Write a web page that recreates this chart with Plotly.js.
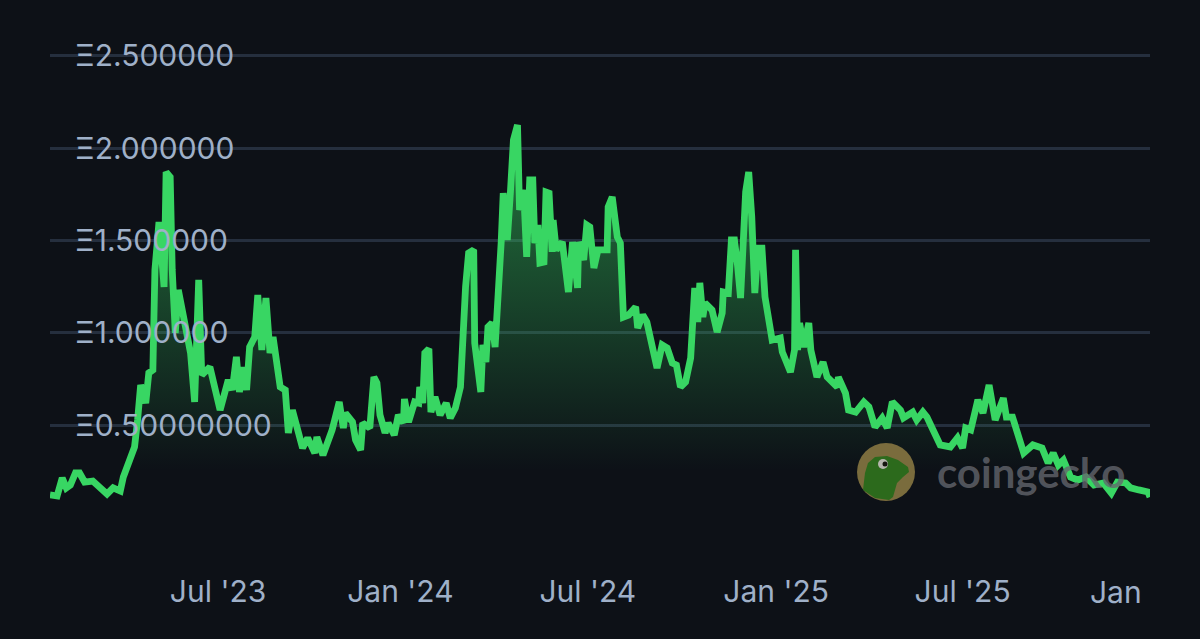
<!DOCTYPE html>
<html><head><meta charset="utf-8">
<script src="https://cdn.plot.ly/plotly-3.0.1.min.js"></script>
<style>html,body{margin:0;padding:0;background:#0d1117}#c{width:1200px;height:639px}</style></head>
<body><div id="c"></div>
<script>
const startDate = Date.UTC(2023,0,17);
const dayOffsets = [0,7,12,16,20,25,29,34,42,49,56,62,69,72,77,83,86,89,94,97,101,103,107,112,114,118,120,123,126,131,138,142,146,149,157,167,175,179,183,186,189,193,196,201,204,208,212,216,219,226,231,234,238,248,253,260,262,268,277,284,288,290,297,300,305,307,314,318,321,324,329,332,338,342,347,348,352,358,362,363,366,368,372,374,378,383,389,393,398,403,405,408,411,416,417,420,423,425,428,430,434,437,440,443,445,449,452,455,459,461,465,468,471,474,476,479,481,485,487,490,493,494,497,503,509,513,518,519,524,527,530,534,538,547,548,552,557,560,563,568,575,577,582,586,596,601,606,611,615,619,624,629,633,636,638,641,643,650,655,660,661,666,669,672,675,678,683,686,689,692,695,699,702,705,709,717,719,727,731,732,734,736,740,745,747,753,759,763,773,774,781,784,791,799,804,810,817,822,827,835,838,847,851,857,861,867,874,884,891,896,899,904,911,916,922,928,936,939,945,956,965,974,980,985,990,995,1002,1009,1017,1025,1034,1042,1048,1056,1061,1069,1078,1080];
const prices = [0.121,0.115,0.213,0.159,0.175,0.240,0.240,0.191,0.196,0.164,0.126,0.159,0.142,0.218,0.294,0.381,0.527,0.717,0.619,0.782,0.798,1.340,1.600,1.248,1.871,1.844,1.340,0.999,1.232,1.085,0.890,0.625,1.286,0.771,0.814,0.581,0.744,0.690,0.869,0.679,0.814,0.690,0.923,0.977,1.205,0.907,1.188,0.890,0.977,0.706,0.690,0.457,0.581,0.375,0.430,0.348,0.435,0.337,0.473,0.625,0.484,0.565,0.516,0.419,0.364,0.511,0.484,0.760,0.728,0.554,0.457,0.511,0.446,0.554,0.511,0.641,0.516,0.625,0.619,0.706,0.619,0.890,0.912,0.570,0.652,0.554,0.619,0.538,0.592,0.706,0.977,1.248,1.432,1.449,0.944,0.798,0.679,0.934,0.841,1.031,1.053,0.923,1.161,1.492,1.757,1.503,1.757,2.045,2.126,1.665,1.774,1.411,1.828,1.828,1.486,1.584,1.378,1.383,1.763,1.757,1.438,1.611,1.449,1.492,1.221,1.492,1.243,1.492,1.394,1.584,1.573,1.351,1.449,1.449,1.682,1.736,1.519,1.486,1.085,1.096,1.140,1.026,1.096,1.058,0.809,0.934,0.917,0.836,0.825,0.706,0.733,0.863,1.243,1.058,1.270,1.085,1.161,1.123,1.004,1.107,1.221,1.215,1.503,1.503,1.367,1.188,1.763,1.871,1.627,1.215,1.459,1.459,1.194,1.107,0.961,0.972,0.896,0.787,0.907,1.449,0.907,1.053,0.923,1.053,0.907,0.760,0.841,0.760,0.706,0.760,0.673,0.581,0.570,0.625,0.598,0.489,0.538,0.484,0.625,0.581,0.538,0.570,0.527,0.570,0.543,0.473,0.392,0.381,0.430,0.375,0.484,0.473,0.636,0.565,0.717,0.527,0.646,0.543,0.543,0.348,0.392,0.375,0.294,0.348,0.283,0.310,0.218,0.202,0.218,0.175,0.186,0.131,0.191,0.186,0.159,0.148,0.137,0.110];
const yTickVals = [0.5,1,1.5,2,2.5];
const yTickText = ['Ξ0.50000000','Ξ1.000000','Ξ1.500000','Ξ2.000000','Ξ2.500000'];
const xTickVals = ['2023-07-01','2023-12-27','2024-06-28','2024-12-30','2025-07-01'];
const xTickText = ["Jul '23","Jan '24","Jul '24","Jan '25","Jul '25"];
const lastTickDate = '2026-01-01';
const lastTickText = 'Jan';
const brand = 'coingecko';

const dates = dayOffsets.map(d => new Date(startDate + d*864e5).toISOString().slice(0,10));
const M = {l:50, r:50, t:20, b:79}, W = 1200, H = 639;
const px = x => (x - M.l)/(W - M.l - M.r);
const py = y => 1 - (y - M.t)/(H - M.t - M.b);
const poly = pts => 'M' + pts.map(p => px(p[0]) + ',' + py(p[1])).join('L') + 'Z';
const circle = (cx,cy,r,color) => ({type:'circle',xref:'paper',yref:'paper',layer:'above',
  x0:px(cx-r),x1:px(cx+r),y0:py(cy+r),y1:py(cy-r),fillcolor:color,line:{width:0}});
const labelFont = {family:'Inter, "Noto Sans", sans-serif', size:30, color:'#9fb0c8'};

Plotly.newPlot('c',[{
  x:dates, y:prices, type:'scatter', mode:'lines',
  line:{color:'#38d663', width:6.8, shape:'linear'},
  fill:'tozeroy',
  fillgradient:{type:'vertical', start:2.13, stop:0.256,
    colorscale:[[0,'rgba(56,214,99,0.53)'],[1,'rgba(56,214,99,0)']]},
  hoverinfo:'skip'
}],{
  width:W, height:H, margin:M, showlegend:false,
  paper_bgcolor:'#0d1117', plot_bgcolor:'#0d1117',
  xaxis:{type:'date', range:['2023-01-17','2026-01-01'], tickmode:'array', tickvals:xTickVals, ticktext:xTickText,
    showgrid:false, zeroline:false, showline:false, ticks:'', tickfont:labelFont, ticklabelstandoff:11},
  yaxis:{range:[-0.2317,2.695], tickmode:'array', tickvals:yTickVals, ticktext:yTickText,
    side:'right', anchor:'free', position:px(74), showgrid:true, gridcolor:'#252f3e', gridwidth:3,
    zeroline:false, showline:false, ticks:'', tickfont:labelFont},
  shapes:[
    circle(886,472,29,'#7a6c3d'),
    {type:'path',xref:'paper',yref:'paper',layer:'above',fillcolor:'#2c6a1c',line:{width:0},
     path:poly([[863,490],[865,473],[868,463],[875,457],[887,456],[898,460],[908,467],[909,472],[903,477],[897,483],[893,497],[889,500],[875,498]])},
    circle(883,464,5,'#b5b5ad'),
    circle(885,464,2.5,'#15150f')
  ],
  annotations:[
    {xref:'x',yref:'paper',x:lastTickDate,y:py(592),xanchor:'right',yanchor:'middle',xshift:-6,showarrow:false,text:lastTickText,font:labelFont},
    {xref:'paper',yref:'paper',x:px(1031),y:py(472),xanchor:'center',yanchor:'middle',showarrow:false,text:'<b>'+brand+'</b>',
     font:{family:'Lato, "Open Sans", sans-serif',size:42,color:'rgba(100,102,110,0.8)'}}
  ]
},{displayModeBar:false,staticPlot:true});
</script></body></html>
